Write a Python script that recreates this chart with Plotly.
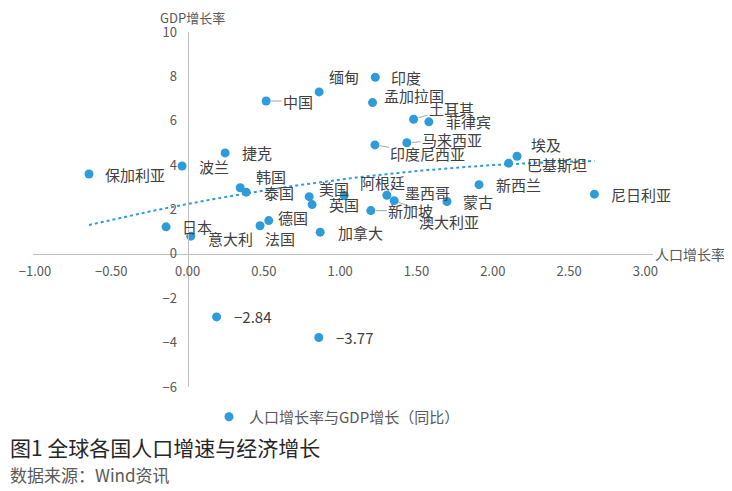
import numpy as np
import plotly.graph_objects as go

# ---- data ----
countries = ["保加利亚", "波兰", "捷克", "中国", "缅甸", "印度", "孟加拉国", "土耳其",
             "菲律宾", "马来西亚", "印度尼西亚", "埃及", "巴基斯坦", "新西兰", "尼日利亚",
             "蒙古", "墨西哥", "阿根廷", "澳大利亚", "新加坡", "美国", "英国", "韩国",
             "泰国", "日本", "意大利", "德国", "法国", "加拿大", None, None]
pop_growth = [-0.646, -0.036, 0.246, 0.515, 0.862, 1.230, 1.212, 1.481,
              1.581, 1.437, 1.228, 2.159, 2.104, 1.910, 2.666,
              1.700, 1.306, 1.026, 1.354, 1.201, 0.797, 0.816, 0.345,
              0.384, -0.141, 0.021, 0.532, 0.475, 0.869, 0.190, 0.860]
gdp_growth = [3.60, 3.96, 4.55, 6.89, 7.30, 7.96, 6.82, 6.07,
              5.95, 5.01, 4.91, 4.40, 4.09, 3.12, 2.69,
              2.36, 2.64, 2.63, 2.40, 1.95, 2.58, 2.22, 2.98,
              2.78, 1.22, 0.80, 1.50, 1.27, 0.98, -2.84, -3.77]
x_ticks = [-1.0, -0.5, 0.0, 0.5, 1.0, 1.5, 2.0, 2.5, 3.0]
y_ticks = [-6, -4, -2, 0, 2, 4, 6, 8, 10]
series_name = "人口增长率与GDP增长（同比）"
x_title = "人口增长率"
y_title = "GDP增长率"
chart_title = "图1 全球各国人口增速与经济增长"
source_note = "数据来源：Wind资讯"

# ---- style ----
BLUE = "#2E9BDB"
GREY = "#595959"
FONT = "Noto Sans CJK SC"
XR = [-1.013, 3.05]
YR = [-6, 10]
# the page body has an 8px margin, so the figure is 8px smaller than the window
W, H = 724, 483
L, R, T, B = 25, 79, 24, 104
pw, ph = W - L - R, H - T - B

# label placement (pixel offsets): plain labels -> (dx, dy); leader labels -> ("arrow", ax, ay)
label_pos = {
    "保加利亚": (14, 0), "波兰": (15, 0), "捷克": (15, 0), "中国": ("arrow", 32, 0),
    "缅甸": (8, -15), "印度": (14, 0), "孟加拉国": (9, -7), "土耳其": ("arrow", 38, -11),
    "菲律宾": (15, 0), "马来西亚": ("arrow", 45, -3), "印度尼西亚": ("arrow", 53, 9),
    "埃及": (12, -12), "巴基斯坦": (16, 1), "新西兰": (15, 0), "尼日利亚": (15, 0),
    "蒙古": (14, 0), "墨西哥": (16, -3), "阿根廷": (14, -13), "澳大利亚": ("arrow", 55, 21),
    "新加坡": ("arrow", 40, 0), "美国": (8, -8), "英国": (15, 0), "韩国": (14, -11),
    "泰国": (16, 0), "日本": (14, 0), "意大利": (15, 2), "德国": (7, -3), "法国": (3, 13),
    "加拿大": (16, 0),
}

fig = go.Figure()

# polynomial (order 2) trend line fitted to the data
px_arr = np.array(pop_growth)
gy_arr = np.array(gdp_growth)
coef = np.polyfit(px_arr, gy_arr, 2)
tx = np.linspace(px_arr.min(), px_arr.max(), 80)
fig.add_trace(go.Scatter(x=tx, y=np.polyval(coef, tx), mode="lines",
                         line=dict(color=BLUE, width=2, dash="dot"),
                         showlegend=False, hoverinfo="skip"))

fig.add_trace(go.Scatter(x=pop_growth, y=gdp_growth, mode="markers", name=series_name,
                         marker=dict(color=BLUE, size=9)))

annotations = []
lab_font = dict(family=FONT, size=15, color="#404040")
for name, xv, yv in zip(countries, pop_growth, gdp_growth):
    if name is None:
        text = f"{yv:.2f}".replace("-", "\u2212")
        annotations.append(dict(x=xv, y=yv, xref="x", yref="y", text=text, showarrow=False,
                                xanchor="left", yanchor="middle", xshift=15, font=lab_font))
        continue
    pos = label_pos[name]
    if pos[0] == "arrow":
        annotations.append(dict(x=xv, y=yv, xref="x", yref="y", text=name, showarrow=True,
                                arrowhead=0, arrowwidth=1, arrowcolor="#a6a6a6",
                                ax=pos[1], ay=pos[2], standoff=5, font=lab_font))
    else:
        annotations.append(dict(x=xv, y=yv, xref="x", yref="y", text=name, showarrow=False,
                                xanchor="left", yanchor="middle", xshift=pos[0], yshift=-pos[1],
                                font=lab_font))

# axis titles
annotations.append(dict(x=0, y=1, xref="x", yref="paper", text=y_title, showarrow=False,
                        xanchor="center", yanchor="middle", xshift=5, yshift=15, borderpad=0,
                        font=dict(family=FONT, size=13, color=GREY)))
annotations.append(dict(x=1, y=0, xref="paper", yref="y", text=x_title, showarrow=False,
                        xanchor="left", yanchor="middle", xshift=0,
                        font=dict(family=FONT, size=14, color=GREY)))
# title and source (pixel placement converted to paper coords)
annotations.append(dict(x=(0 - L) / pw, y=(H - B - 439) / ph, xref="paper", yref="paper",
                        text=chart_title, showarrow=False, xanchor="left", yanchor="middle",
                        font=dict(family=FONT, size=21, color="#262626")))
annotations.append(dict(x=(0 - L) / pw, y=(H - B - 466) / ph, xref="paper", yref="paper",
                        text=source_note, showarrow=False, xanchor="left", yanchor="middle",
                        font=dict(family=FONT, size=17, color=GREY)))

fig.update_layout(
    width=W, height=H, autosize=False,
    margin=dict(l=L, r=R, t=T, b=B),
    plot_bgcolor="white", paper_bgcolor="white",
    font=dict(family=FONT, color=GREY, size=13),
    xaxis=dict(range=XR, anchor="free", position=(0 - YR[0]) / (YR[1] - YR[0]),
               showgrid=False, zeroline=False, showline=True, linecolor="#bfbfbf", linewidth=1,
               tickmode="array", tickvals=x_ticks, tickformat=".2f",
               ticks="", ticklabelstandoff=6, tickfont=dict(size=13, color=GREY)),
    yaxis=dict(range=YR, anchor="free", position=(0 - XR[0]) / (XR[1] - XR[0]),
               showgrid=False, zeroline=False, showline=True, linecolor="#bfbfbf", linewidth=1,
               tickmode="array", tickvals=y_ticks, ticks="", ticklabelstandoff=8,
               tickfont=dict(size=13, color=GREY)),
    legend=dict(orientation="h", x=(201 - L) / pw, y=(H - B - 409) / ph, xanchor="left",
                yanchor="middle", font=dict(family=FONT, size=15, color=GREY),
                bgcolor="rgba(0,0,0,0)"),
    showlegend=True,
    annotations=annotations,
)

fig.write_html("out.html")
